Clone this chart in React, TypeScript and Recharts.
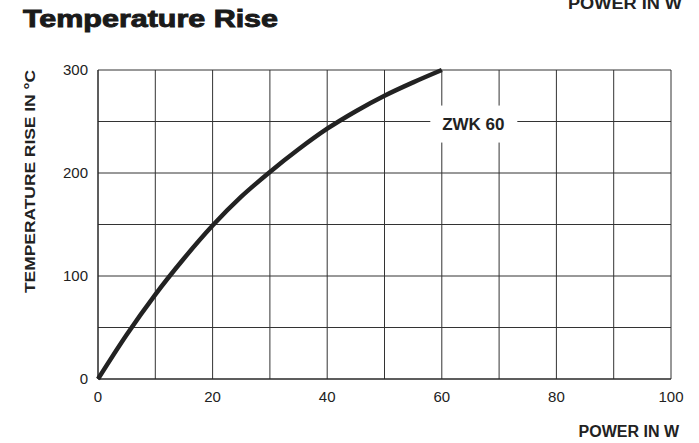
import {
  LineChart,
  Line,
  XAxis,
  YAxis,
  CartesianGrid,
  ReferenceDot,
} from "recharts";

// power (W) vs temperature rise (°C)
const power = [0, 5, 10, 15, 20, 25, 30, 35, 40, 45, 50, 55, 60];
const rise = [0, 43, 82, 117, 149, 177, 201, 223, 243, 260, 275, 288, 300];

const xTicks = [0, 10, 20, 30, 40, 50, 60, 70, 80, 90, 100];
const yTicks = [0, 50, 100, 150, 200, 250, 300];

const seriesName = "ZWK 60";

const data = power.map((p, i) => ({ power: p, rise: rise[i] }));

const font = "'Liberation Sans', Arial, Helvetica, sans-serif";

function SeriesTag(props: any) {
  const { viewBox } = props;
  const cx = viewBox.x + viewBox.width / 2;
  const cy = viewBox.y + viewBox.height / 2;
  return (
    <g>
      <rect x={cx - 43} y={cy - 18} width={87} height={37} fill="#fff" />
      <text
        x={cx}
        y={cy + 6}
        textAnchor="middle"
        fontFamily={font}
        fontWeight="bold"
        fontSize={17}
        fill="#222"
      >
        {seriesName}
      </text>
    </g>
  );
}

function App() {
  return (
    <div
      style={{
        position: "fixed",
        left: 0,
        top: 0,
        width: 699,
        height: 443,
        overflow: "hidden",
        background: "#fff",
      }}
    >
      <LineChart
        width={699}
        height={443}
        data={data}
        margin={{ top: 70, right: 28, left: 0, bottom: 34 }}
      >
        <CartesianGrid stroke="#333" strokeWidth={1} horizontal vertical />
        <XAxis
          dataKey="power"
          type="number"
          domain={[0, 100]}
          ticks={xTicks}
          tickFormatter={(v: number) => (v % 20 === 0 ? String(v) : "")}
          tickLine={false}
          tickSize={6}
          tickMargin={6}
          height={30}
          axisLine={{ stroke: "#222" }}
          tick={{ fill: "#222", fontSize: 15, fontFamily: font }}
          interval={0}
        />
        <YAxis
          type="number"
          domain={[0, 300]}
          ticks={yTicks}
          tickFormatter={(v: number) => (v % 100 === 0 ? String(v) : "")}
          tickLine={false}
          tickSize={6}
          tickMargin={4}
          width={98}
          axisLine={{ stroke: "#222" }}
          tick={{ fill: "#222", fontSize: 15, fontFamily: font }}
          interval={0}
        />
        <Line
          dataKey="rise"
          type="monotone"
          stroke="#222"
          strokeWidth={4.5}
          dot={false}
          isAnimationActive={false}
        />
        <ReferenceDot
          x={65.5}
          y={248}
          r={0}
          fill="none"
          stroke="none"
          label={<SeriesTag />}
        />
      </LineChart>
      <svg
        width={699}
        height={443}
        style={{ position: "absolute", left: 0, top: 0, pointerEvents: "none" }}
      >
        <text
          x={23}
          y={27}
          fontFamily={font}
          fontWeight="bold"
          fontSize={23}
          textLength={255}
          lengthAdjust="spacingAndGlyphs"
          fill="#1a1a1a"
          stroke="#1a1a1a"
          strokeWidth={0.9}
        >
          Temperature Rise
        </text>
        <text
          x={682}
          y={9}
          textAnchor="end"
          fontFamily={font}
          fontWeight="bold"
          fontSize={16}
          textLength={114}
          lengthAdjust="spacingAndGlyphs"
          fill="#222"
        >
          POWER IN W
        </text>
        <text
          x={679}
          y={437}
          textAnchor="end"
          fontFamily={font}
          fontWeight="bold"
          fontSize={16}
          fill="#222"
        >
          POWER IN W
        </text>
        <text
          transform="translate(35,181.5) rotate(-90)"
          textAnchor="middle"
          fontFamily={font}
          fontWeight="bold"
          fontSize={15}
          textLength={223}
          lengthAdjust="spacingAndGlyphs"
          fill="#222"
        >
          TEMPERATURE RISE IN °C
        </text>
        <text
          x={23}
          y={464}
          fontFamily={font}
          fontWeight="bold"
          fontSize={23}
          textLength={255}
          lengthAdjust="spacingAndGlyphs"
          fill="#1a1a1a"
          stroke="#1a1a1a"
          strokeWidth={0.9}
        >
          Temperature Rise
        </text>
      </svg>
    </div>
  );
}

export default App;
